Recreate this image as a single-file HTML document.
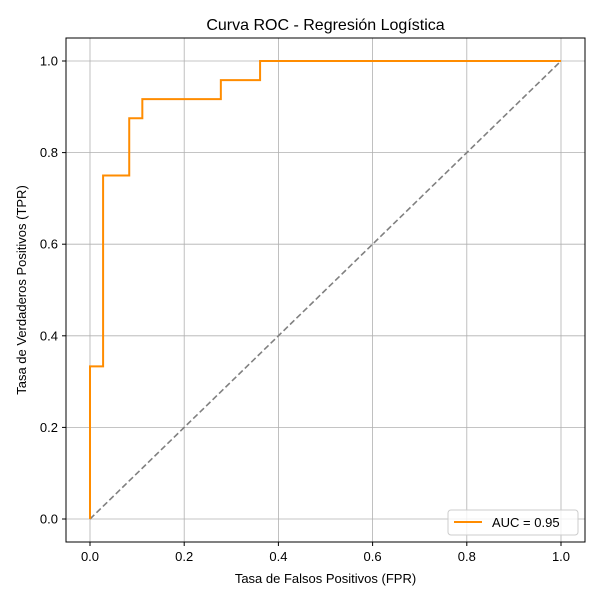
<!DOCTYPE html>
<html><head><meta charset="utf-8">
<style>
body{margin:0;background:#fff;}
svg text{font-family:"Liberation Sans","DejaVu Sans",sans-serif;fill:#000;}
</style></head>
<body>
<svg id="chart" width="600" height="600" viewBox="0 0 600 600">
<rect width="600" height="600" fill="#fff"/>
<g id="grid"></g>
<g id="ticks"></g>
<g id="series"></g>
<rect x="66" y="38" width="519" height="504" fill="none" stroke="#000" stroke-width="1"/>
<text x="325.5" y="30" font-size="16" text-anchor="middle">Curva ROC - Regresión Logística</text>
<text x="325.5" y="583" font-size="13" text-anchor="middle">Tasa de Falsos Positivos (FPR)</text>
<text x="26" y="290" font-size="13" text-anchor="middle" transform="rotate(-90 26 290)">Tasa de Verdaderos Positivos (TPR)</text>
<g>
<rect x="448" y="510" width="130" height="25" rx="3" fill="#fff" fill-opacity="0.8" stroke="#ccc"/>
<line x1="454" y1="522" x2="482" y2="522" stroke="#ff8c00" stroke-width="2"/>
<text x="492" y="527" font-size="13">AUC = 0.95</text>
</g>
</svg>
<script>
const fprValues=[0,0,0.0278,0.0278,0.0833,0.0833,0.1111,0.1111,0.2778,0.2778,0.3611,0.3611,1];
const tprValues=[0,0.3333,0.3333,0.75,0.75,0.875,0.875,0.9167,0.9167,0.9583,0.9583,1,1];
const tickValues=[0,0.2,0.4,0.6,0.8,1.0];
const tickLabels=["0.0","0.2","0.4","0.6","0.8","1.0"];
const NS="http://www.w3.org/2000/svg";
const sx=v=>90+v*471, sy=v=>519-v*458;
function mk(tag,attrs,parent){const e=document.createElementNS(NS,tag);for(const k in attrs)e.setAttribute(k,attrs[k]);parent.appendChild(e);return e;}
const grid=document.getElementById('grid'),ticks=document.getElementById('ticks'),series=document.getElementById('series');
tickValues.forEach((v,i)=>{
 let g=mk('line',{x1:sx(v),x2:sx(v),y1:38,y2:542,stroke:'#b0b0b0','stroke-width':0.8},grid);
 
 
 g=mk('line',{x1:66,x2:585,y1:sy(v),y2:sy(v),stroke:'#b0b0b0','stroke-width':0.8},grid);
 
 
 let t=mk('line',{x1:sx(v),x2:sx(v),y1:542,y2:546,stroke:'#000'},ticks);
 
 
 t=mk('line',{x1:62,x2:66,y1:sy(v),y2:sy(v),stroke:'#000'},ticks);
 
 
 let l=mk('text',{x:sx(v),y:561,'font-size':13,'text-anchor':'middle'},ticks);l.textContent=tickLabels[i];
 
 
 l=mk('text',{x:58,y:sy(v)+4.5,'font-size':13,'text-anchor':'end'},ticks);l.textContent=tickLabels[i];
 
 
});
const diag=mk('line',{x1:sx(0),y1:sy(0),x2:sx(1),y2:sy(1),stroke:'#808080','stroke-width':1.6,'stroke-dasharray':'6,3'},series);


const roc=mk('polyline',{points:fprValues.map((f,i)=>sx(f)+','+sy(tprValues[i])).join(' '),fill:'none',stroke:'#ff8c00','stroke-width':2},series);


</script>
</body></html>
